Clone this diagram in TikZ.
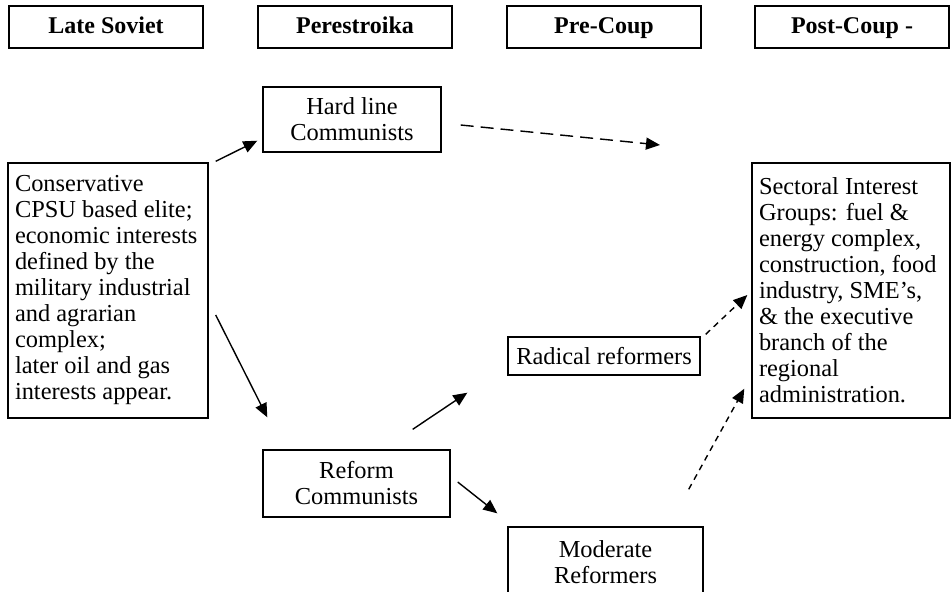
\documentclass[tikz,border=0pt]{standalone}
\usepackage{fontspec}
\setmainfont{Liberation Serif}
\usetikzlibrary{arrows.meta}

\begin{document}
\begin{tikzpicture}[x=0.5pt,y=-0.5pt,
  hdr/.style={draw,line width=0.7pt,minimum width=97pt,minimum height=21pt,
              inner sep=0pt,text height=8.5pt,text depth=2.5pt,
              font=\fontsize{12}{13}\selectfont\bfseries},
  grp/.style={draw,line width=0.7pt,align=center,inner sep=0pt,
              font=\fontsize{12.2}{13}\selectfont},
  txtbox/.style={grp,align=flush left,text width=93pt,inner xsep=3.5pt,
                 minimum height=127.5pt},
  arr/.style={-{Triangle[length=7pt,width=6pt]},line width=0.7pt},
  darr/.style={arr,dash pattern=on 3pt off 2.5pt}
]
  \useasboundingbox (0,0) rectangle (951,591);
  % period headings
  \node[hdr] (late) at (106,27) {Late Soviet};
  \node[hdr] (pere) at (355,27) {Perestroika};
  \node[hdr] (pre)  at (604,27) {Pre-Coup};
  \node[hdr] (post) at (852,27) {Post-Coup -};

  % groups
  \node[txtbox] (cons) at (108,290.5)
    {Conservative\\ CPSU based elite;\\ economic interests\\ defined by the\\
     military industrial\\ and agrarian\\ complex;\\ later oil and gas\\
     interests appear.};
  \node[grp,minimum width=89pt,minimum height=32.5pt] (hard) at (352,119.5)
    {Hard line\\ Communists};
  \node[grp,minimum width=93.5pt,minimum height=33.5pt] (reform) at (356.5,483.5)
    {Reform\\ Communists};
  \node[grp,minimum width=96pt,minimum height=19pt] (radical) at (604,356)
    {Radical reformers};
  \node[grp,minimum width=97.5pt,minimum height=35pt] (moderate) at (605.5,562)
    {Moderate\\ Reformers};
  \node[txtbox,text width=92pt] (sect) at (851,290.5)
    {Sectoral Interest\\ Groups: fuel \&\\ energy complex,\\ construction, food\\
     industry, SME’s,\\ \& the executive\\ branch of the\\ regional\\
     administration.};
  \coordinate (hardend) at (660,145);

  % connectors
  \draw[arr] ([shift={(7,-1)}]cons.north east) -- ([shift={(-5,-12)}]hard.south west);
  \draw[arr] ([shift={(7,24.5)}]cons.east) -- ([shift={(5,-32)}]reform.north west);
  \draw[arr,dash pattern=on 6.5pt off 3.5pt] ([shift={(19,5.5)}]hard.east) -- (hardend);
  \draw[arr] ([shift={(-38,-20)}]reform.north east) -- ([shift={(-40,17)}]radical.south west);
  \draw[arr] ([shift={(7,-1.5)}]reform.east) -- ([shift={(-10,-13)}]moderate.north west);
  \draw[darr] ([shift={(5,-2)}]radical.north east) -- ([shift={(-4,4.5)}]sect.west);
  \draw[darr] ([shift={(-15,-37)}]moderate.north east) -- ([shift={(-7,-30)}]sect.south west);
\end{tikzpicture}
\end{document}
